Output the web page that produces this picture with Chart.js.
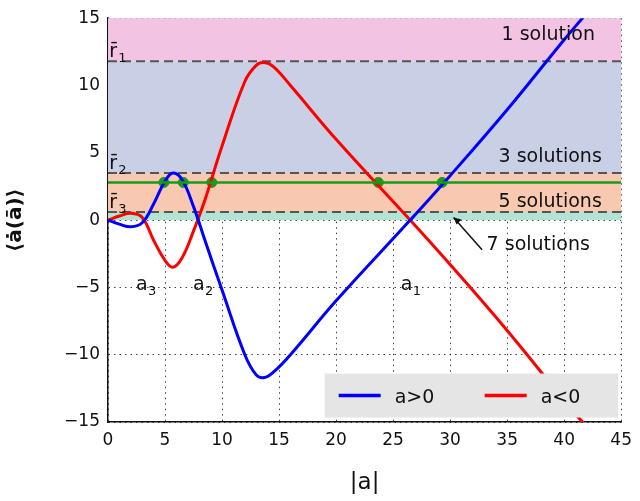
<!DOCTYPE html><html><head><script src="https://cdn.jsdelivr.net/npm/chart.js@4"></script>
<style>body{margin:0;background:#fff}#w{width:640px;height:501px}</style></head><body><div id="w"><canvas id="c"></canvas></div>
<script>
const blueX=[0,1,2,3,4,5,5.7,6.5,7.5,8.5,10,12,13,13.7,14.5,16,20,26.5,30,35,40,41.8];
const blueY=[0,-0.3,-0.5,-0.2,1.2,2.9,3.5,3.0,1.0,-1.5,-5.2,-10,-11.5,-11.7,-11.3,-10,-6,0,3.3,8.2,13.4,15.2];
const redX=[0,1,2,3,4,5,5.7,6.5,7.5,8.5,10,12,13,13.7,14.5,16,20,26.5,30,35,40,41.8];
const redY=[0,0.3,0.5,0.2,-1.5,-3.0,-3.5,-2.8,-0.8,1.5,5.5,10.3,11.5,11.7,11.4,10,6,0,-3.3,-8.2,-13.4,-15.2];
const greenLevel=2.8;
const greenDotsX=[4.9,6.6,9.1,23.7,29.3];
const levels=[11.8,3.5,0.6];
const levelNames=["1","2","3"];
const bandColors=["#f2c3e2","#c9d0e6","#f9c8b1","#b3e3d3"];
const bandLabels=["1 solution","3 solutions","5 solutions","7 solutions"];
const xTicks=[0,5,10,15,20,25,30,35,40,45];
const yTicks=[-15,-10,-5,0,5,10,15];
const zip=(xs,ys)=>xs.map((x,i)=>({x,y:ys[i]}));
const F='"DejaVu Sans"';
const deco={id:'deco',
beforeDatasetsDraw(ch){const c=ch.ctx,x=ch.scales.x,y=ch.scales.y,a=ch.chartArea;
 const edges=[15,...levels,0];c.save();
 for(let i=0;i<4;i++){c.fillStyle=bandColors[i];const t=y.getPixelForValue(edges[i]),b=y.getPixelForValue(edges[i+1]);c.fillRect(a.left,t,a.right-a.left,b-t);}
 c.strokeStyle='#555';c.lineWidth=2;c.setLineDash([9,5]);
 levels.forEach(l=>{const p=y.getPixelForValue(l);c.beginPath();c.moveTo(a.left,p);c.lineTo(a.right,p);c.stroke();});
 c.setLineDash([]);c.restore();},
afterDatasetsDraw(ch){const c=ch.ctx,x=ch.scales.x,y=ch.scales.y,a=ch.chartArea;c.save();c.fillStyle='#111';
 c.textBaseline='alphabetic';
 const rl=[12.1,3.8,0.9];
 levels.forEach((l,i)=>{const px=x.getPixelForValue(0.1),py=y.getPixelForValue(rl[i]);c.font='19px '+F;c.textAlign='left';c.fillText('r\u0304',px,py);c.font='13px '+F;c.fillText(levelNames[i],px+9,py+5);});
 c.font='19px '+F;c.textAlign='right';
 c.fillText(bandLabels[0],x.getPixelForValue(42.7),y.getPixelForValue(13.4));
 c.fillText(bandLabels[1],x.getPixelForValue(43.3),y.getPixelForValue(4.3));
 c.fillText(bandLabels[2],x.getPixelForValue(43.3),y.getPixelForValue(1.0));
 c.textAlign='left';c.fillText(bandLabels[3],x.getPixelForValue(33.2),y.getPixelForValue(-2.2));
 c.strokeStyle='#111';c.lineWidth=1.5;const ax=x.getPixelForValue(30.3),ay=y.getPixelForValue(0.2),bx=x.getPixelForValue(32.8),by=y.getPixelForValue(-2.2);
 c.beginPath();c.moveTo(bx,by);c.lineTo(ax,ay);c.stroke();
 c.beginPath();c.moveTo(ax,ay);c.lineTo(ax+8,ay+2);c.lineTo(ax+3,ay+7);c.closePath();c.fill();
 [['3',3.6],['2',8.6],['1',26.8]].forEach(([s,v])=>{const px=x.getPixelForValue(v)-13,py=y.getPixelForValue(-5.2);c.font='19px '+F;c.textAlign='left';c.fillText('a',px,py);c.font='13px '+F;c.fillText(s,px+12,py+5);});
 const lx=x.getPixelForValue(19),ly=y.getPixelForValue(-11.4),lw=a.right-3-lx,lh=44;
 c.fillStyle='#e5e5e5';c.fillRect(lx,ly,lw,lh);
 c.lineWidth=3.5;c.strokeStyle='#0000ff';c.beginPath();c.moveTo(lx+14,ly+22);c.lineTo(lx+56,ly+22);c.stroke();
 c.strokeStyle='#ff0000';c.beginPath();c.moveTo(lx+160,ly+22);c.lineTo(lx+202,ly+22);c.stroke();
 c.fillStyle='#111';c.font='19px '+F;c.fillText('a>0',lx+70,ly+29);c.fillText('a<0',lx+216,ly+29);
 c.restore();}};
new Chart(document.getElementById('c'),{type:'scatter',
data:{datasets:[
 {data:[{x:0,y:greenLevel},{x:45,y:greenLevel}],showLine:true,borderColor:'#1a9a1a',borderWidth:2.5,pointRadius:0},
 {data:zip(blueX,blueY),showLine:true,borderColor:'#0000ff',borderWidth:3,pointRadius:0,tension:0.4},
 {data:zip(redX,redY),showLine:true,borderColor:'#ff0000',borderWidth:3,pointRadius:0,tension:0.4},
 {data:greenDotsX.map(v=>({x:v,y:greenLevel})),backgroundColor:'#1a9a1a',borderColor:'#1a9a1a',pointRadius:5}
]},
options:{responsive:true,maintainAspectRatio:false,animation:false,layout:{padding:{top:10,right:13,left:0,bottom:0}},
 plugins:{legend:{display:false},tooltip:{enabled:false}},
 scales:{
  x:{type:'linear',min:0,max:45,afterBuildTicks:s=>{s.ticks=xTicks.map(v=>({value:v}))},afterFit:s=>{s.height=79},
   ticks:{color:'#111',font:{family:'DejaVu Sans',size:17},padding:8},
   grid:{color:'#444',lineWidth:1,drawTicks:false},border:{color:'#111',width:1.5,dash:[1.5,4]},
   title:{display:true,text:'|a|',color:'#111',font:{family:'DejaVu Sans',size:23},padding:{top:0}}},
  y:{min:-15,max:15,afterBuildTicks:s=>{s.ticks=yTicks.map(v=>({value:v}))},afterFit:s=>{s.width=108},
   ticks:{color:'#111',font:{family:'DejaVu Sans',size:17},padding:8,callback:v=>String(v).replace('-','\u2212')},
   grid:{color:'#444',lineWidth:1,drawTicks:false},border:{color:'#111',width:1.5,dash:[1.5,4]},
   title:{display:true,text:'\u27e8\u0227(\u0101)\u27e9',color:'#111',font:{family:'DejaVu Sans',size:20,weight:'bold'}}}}},
plugins:[deco]});
</script></body></html>
